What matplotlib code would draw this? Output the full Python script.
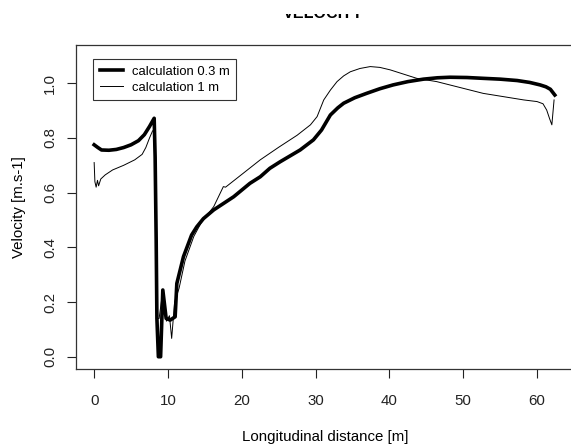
import matplotlib
matplotlib.use("Agg")
import matplotlib.pyplot as plt
from matplotlib.patches import Rectangle

plt.rcParams['font.family'] = ['Liberation Sans', 'DejaVu Sans']

# calculation 0.3 m (thick)
x_03 = [0.0, 0.5, 1.0, 2.0, 3.0, 4.0, 5.0, 6.0, 6.8, 7.5, 8.13, 8.26, 8.4, 8.5, 8.7, 9.0, 9.3,
        9.75, 10.3, 10.97, 11.2, 12.1, 13.2, 13.9, 14.8, 16.2, 18.9, 21.1, 22.5, 23.8, 25.2,
        27.9, 29.7, 30.8, 32.0, 33.0, 33.8, 35.3, 36.9, 38.7, 40.5, 42.5, 44.6, 46.5, 48.2,
        50.5, 52.7, 55.0, 57.3, 59.0, 60.4, 61.2, 61.8, 62.4]
y_03 = [0.775, 0.765, 0.756, 0.755, 0.758, 0.765, 0.775, 0.79, 0.812, 0.842, 0.872, 0.73, 0.43,
        0.14, 0.0, 0.0, 0.244, 0.14, 0.134, 0.146, 0.268, 0.366, 0.445, 0.475, 0.505, 0.537,
        0.585, 0.634, 0.658, 0.689, 0.713, 0.756, 0.793, 0.829, 0.884, 0.91, 0.927, 0.947,
        0.963, 0.98, 0.994, 1.006, 1.015, 1.02, 1.022, 1.021, 1.018, 1.015, 1.01, 1.003,
        0.994, 0.987, 0.978, 0.957]

# calculation 1 m (thin)
x_1 = [0.0, 0.1, 0.27, 0.45, 0.6, 0.9, 1.5, 2.5, 4.0, 5.5, 6.5, 7.0, 7.5, 7.9, 8.1, 8.3, 8.45,
       8.8, 9.3, 9.8, 10.2, 10.5, 10.9, 11.5, 12.3, 13.5, 14.5, 16.2, 17.5, 17.8, 20.2, 22.5,
       25.0, 27.5, 29.3, 30.2, 31.1, 32.0, 32.9, 33.8, 34.7, 36.0, 37.4, 38.7, 40.1, 43.7,
       46.4, 52.7, 58.2, 60.0, 60.8, 61.3, 61.7, 62.0, 62.3]
y_1 = [0.71, 0.64, 0.62, 0.645, 0.625, 0.65, 0.665, 0.683, 0.70, 0.72, 0.74, 0.765, 0.80,
       0.825, 0.83, 0.6, 0.14, 0.14, 0.24, 0.13, 0.15, 0.067, 0.2, 0.25, 0.35, 0.44, 0.49,
       0.549, 0.622, 0.62, 0.671, 0.72, 0.766, 0.81, 0.848, 0.878, 0.939, 0.975, 1.006,
       1.027, 1.042, 1.054, 1.061, 1.058, 1.049, 1.018, 1.006, 0.963, 0.939, 0.933, 0.925,
       0.902, 0.87, 0.848, 0.939]

xticks = [0, 10, 20, 30, 40, 50, 60]
yticks = [0.0, 0.2, 0.4, 0.6, 0.8, 1.0]

W, H = 571, 444
fig = plt.figure(figsize=(W / 100, H / 100), dpi=100)
ax = fig.add_axes([75.7 / W, 1 - 369.3 / H, (574 - 75.7) / W, (369.3 - 44.7) / H])

ax.plot(x_03, y_03, color='black', lw=2.6, solid_joinstyle='round', label='calculation 0.3 m')
ax.plot(x_1, y_1, color='black', lw=0.7, label='calculation 1 m')

ax.set_xlim(-2.5, 65)
ax.set_ylim(-0.046, 1.141)
ax.set_xticks(xticks)
ax.set_xticklabels([str(t) for t in xticks])
ax.set_yticks(yticks)
ax.set_yticklabels([f"{t:.1f}" for t in yticks], rotation=90, va='center')
ax.tick_params(direction='out', length=6.5, width=0.8, labelsize=10.8, colors='#222222')
ax.tick_params(axis='x', pad=11)
ax.tick_params(axis='y', pad=7)
for s in ax.spines.values():
    s.set_linewidth(0.9)
    s.set_color('#333333')

ax.set_xlabel('Longitudinal distance [m]', fontsize=10.8, labelpad=16)
ax.set_ylabel('Velocity [m.s-1]', fontsize=10.8, labelpad=12)

leg = ax.legend(loc='upper left', bbox_to_anchor=((93.3 - 75.7) / (574 - 75.7), 1 - (59 - 44.7) / (369.3 - 44.7)),
                fontsize=9.4, frameon=True, fancybox=False, edgecolor='black', handlelength=1.8,
                handletextpad=0.65, borderpad=0.5, labelspacing=0.3, borderaxespad=0)
leg.get_frame().set_linewidth(0.8)

fig.text(323 / W, 1 - 17.5 / H, 'VELOCITY', ha='center', va='baseline', fontsize=11.6, weight='bold')
fig.add_artist(Rectangle((0, 1 - 14.5 / H), 1, 14.5 / H, transform=fig.transFigure,
                         facecolor='white', edgecolor='none', zorder=10))

fig.savefig('out.png', dpi=100)
